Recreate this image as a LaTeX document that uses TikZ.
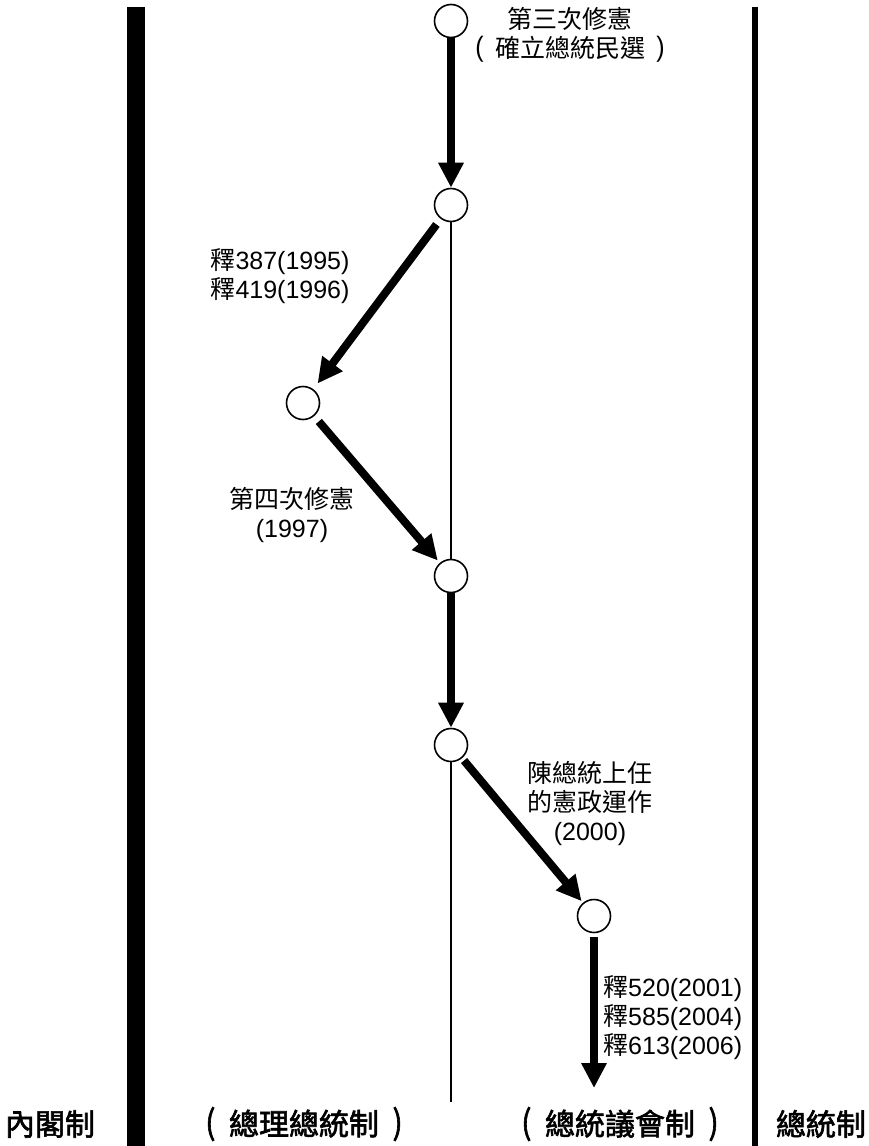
\documentclass[tikz,border=0pt]{standalone}
\usepackage{fontspec}
\usepackage{graphicx}
\setmainfont{Liberation Sans}
\newfontfamily\cjk{Noto Sans CJK TC}
\newfontfamily\cjkb[FakeBold=2]{Noto Sans CJK TC}
\newcommand{\cj}[1]{{\cjk #1}}
\newcommand{\lp}{\makebox[1.24em][c]{\raisebox{0.02em}{\scalebox{1}[1.12]{(}}}}
\newcommand{\rp}{\makebox[1.24em][c]{\raisebox{0.02em}{\scalebox{1}[1.12]{)}}}}
\usetikzlibrary{arrows.meta}
\begin{document}
\begin{tikzpicture}[x=1pt,y=-1pt,
  stage/.style={circle,draw,line width=1.6pt,fill=white,minimum size=33pt,inner sep=0pt},
  bigarrow/.style={line width=8pt,-{Triangle[width=24pt,length=25pt]}},
  thinline/.style={line width=2.2pt},
  lbl/.style={font=\fontsize{25}{29}\selectfont,inner sep=0pt},
  bottomlbl/.style={font=\fontsize{30}{32}\selectfont\cjkb,inner sep=0pt}
]
\useasboundingbox (0,0) rectangle (869,1146);
\fill (127,7) rectangle (145,1146);
\fill (752,7) rectangle (758,1146);

\node[stage] (c1) at (451,21) {};
\node[stage] (c2) at (451,205) {};
\node[stage] (c3) at (303,403) {};
\node[stage] (c4) at (451,576) {};
\node[stage] (c5) at (451,745) {};
\node[stage] (c6) at (594,916) {};
\coordinate (lineend) at (451,1102);
\coordinate (arrowend) at (594,1088);

\draw[thinline] (c2.south) -- (c4.north);
\draw[thinline] (c5.south) -- (lineend);

\draw[bigarrow] (c1) -- (c2);
\draw[bigarrow, shorten <=7pt, shorten >=7pt] (c2) -- (c3);
\draw[bigarrow, shorten <=7pt, shorten >=3pt] (c3) -- (c4);
\draw[bigarrow] (c4) -- (c5);
\draw[bigarrow, shorten <=3pt, shorten >=2pt] (c5) -- (c6);
\draw[bigarrow, shorten <=4pt] (c6) -- (arrowend);

\node[lbl,align=center] (t1) at (570,35) {\cj{第三次修憲}\\\lp\cj{確立總統民選}\rp};
\node[lbl,align=left] (t2) at (280,276) {\cj{釋}387(1995)\\\cj{釋}419(1996)};
\node[lbl,align=center] (t3) at (292,515) {\cj{第四次修憲}\\(1997)};
\node[lbl,align=center] (t4) at (590,804) {\cj{陳總統上任}\\\cj{的憲政運作}\\(2000)};
\node[lbl,align=left,anchor=west] (t5) at (603,1018) {\cj{釋}520(2001)\\\cj{釋}585(2004)\\\cj{釋}613(2006)};

\node[bottomlbl] (b1) at (50,1124) {內閣制};
\node[bottomlbl] (b2) at (304,1124) {\lp 總理總統制\rp};
\node[bottomlbl] (b3) at (620,1124) {\lp 總統議會制\rp};
\node[bottomlbl] (b4) at (821,1124) {總統制};
\end{tikzpicture}
\end{document}
